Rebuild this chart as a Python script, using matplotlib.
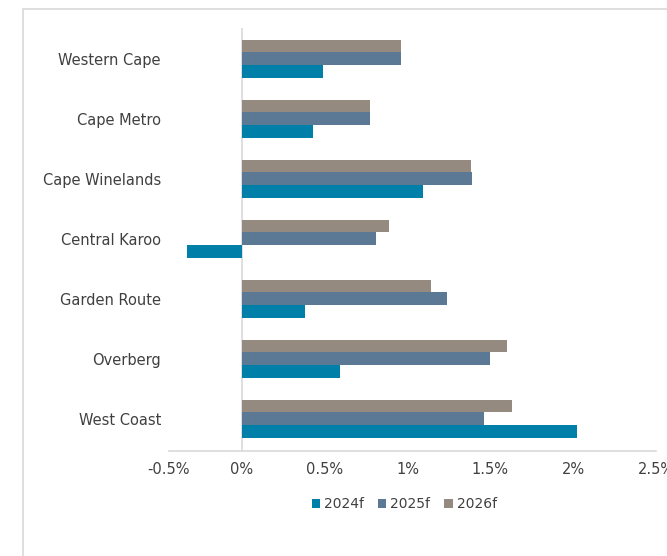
import matplotlib.pyplot as plt
import numpy as np
from matplotlib.patches import Rectangle

# Regional growth forecasts (%)
regions = ['Western Cape', 'Cape Metro', 'Cape Winelands', 'Central Karoo',
           'Garden Route', 'Overberg', 'West Coast']
g2024 = [0.49, 0.43, 1.09, -0.33, 0.38, 0.59, 2.02]
g2025 = [0.96, 0.77, 1.39, 0.81, 1.24, 1.50, 1.46]
g2026 = [0.96, 0.77, 1.38, 0.89, 1.14, 1.60, 1.63]
series_names = ['2024f', '2025f', '2026f']
colors = ['#007fa8', '#5b7895', '#948a80']
tick_vals = [0, 0.5, 1, 1.5, 2, 2.5]
tick_labels = ['-0.5%', '0%', '0.5%', '1%', '1.5%', '2%', '2.5%']

plt.rcParams['font.family'] = ['DejaVu Sans']
text_col = '#404040'

fig = plt.figure(figsize=(6.67, 5.56), dpi=100)
ax = fig.add_axes([169 / 667, 105 / 556, (656 - 169) / 667, (451 - 28) / 556])

# light outer frame of the chart area
fig.patches.append(Rectangle((23 / 667, -0.1), 1.0, (556 - 9) / 556 + 0.1,
                             transform=fig.transFigure, fill=False,
                             edgecolor='#d9d9d9', lw=1.2))

y = np.arange(len(regions))
h = 0.212
ax.barh(y + h, g2024, h, color=colors[0], label=series_names[0])
ax.barh(y, g2025, h, color=colors[1], label=series_names[1])
ax.barh(y - h, g2026, h, color=colors[2], label=series_names[2])

xmin = -0.441
ax.set_xlim(xmin, 2.5)
ax.set_ylim(6.54, -0.51)

ax.axvline(0, color='#d9d9d9', lw=1.2, zorder=0)
for s in ['top', 'right', 'left']:
    ax.spines[s].set_visible(False)
ax.spines['bottom'].set_color('#d9d9d9')
ax.spines['bottom'].set_linewidth(1.2)

ax.set_yticks(y)
ax.set_yticklabels(regions, fontsize=10.5, color=text_col)
ax.set_xticks([xmin] + tick_vals)
ax.set_xticklabels(tick_labels, fontsize=10.5, color=text_col)
ax.tick_params(axis='y', length=0, pad=5.8)
ax.tick_params(axis='x', length=0, pad=8)

ax.legend(loc='upper center', bbox_to_anchor=(0.483, -0.08), ncol=3,
          frameon=False, fontsize=10, handlelength=0.6, handleheight=0.6,
          handletextpad=0.3, columnspacing=1.0, labelcolor=text_col)

fig.savefig('out.png', dpi=100)
